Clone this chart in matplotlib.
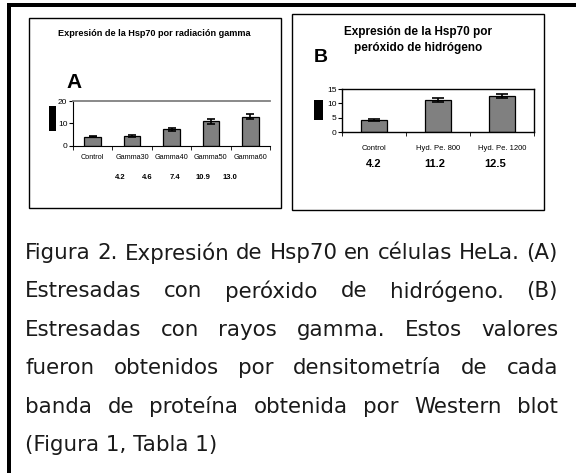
import numpy as np
import matplotlib
matplotlib.use("Agg")
import matplotlib.pyplot as plt
from matplotlib.patches import Rectangle

W, H = 576, 473

# panel A: radiacion gamma
gamma_labels = ["Control", "Gamma30", "Gamma40", "Gamma50", "Gamma60"]
gamma_vals = [4.2, 4.6, 7.4, 10.9, 13.0]
gamma_err = [0.4, 0.5, 0.7, 1.0, 1.0]
gamma_text = ["4.2", "4.6", "7.4", "10.9", "13.0"]

# panel B: peroxido de hidrogeno
hyd_labels = ["Control", "Hyd. Pe. 800", "Hyd. Pe. 1200"]
hyd_vals = [4.2, 11.2, 12.5]
hyd_err = [0.3, 0.8, 0.8]
hyd_text = ["4.2", "11.2", "12.5"]

caption = [
    "Figura 2. Expresión de Hsp70 en células HeLa. (A)",
    "Estresadas con peróxido de hidrógeno. (B)",
    "Estresadas con rayos gamma. Estos valores",
    "fueron obtenidos por densitometría de cada",
    "banda de proteína obtenida por Western blot",
    "(Figura 1, Tabla 1)",
]

ARIAL = ["Liberation Sans", "DejaVu Sans"]


def fx(x):
    return x / W


def fy(y):
    return 1 - y / H


def rect(fig, x0, y0, x1, y1, **kw):
    fig.patches.append(Rectangle((fx(x0), fy(y1)), fx(x1) - fx(x0), fy(y0) - fy(y1),
                                 transform=fig.transFigure, figure=fig, **kw))


def axes_px(fig, x0, y0, x1, y1):
    return fig.add_axes([fx(x0), fy(y1), fx(x1) - fx(x0), fy(y0) - fy(y1)])


fig = plt.figure(figsize=(W / 100, H / 100), dpi=100)

# outer black frame (top and left)
rect(fig, 7, 3, 576, 7, facecolor="black", edgecolor="none")
rect(fig, 7, 3, 11, 473, facecolor="black", edgecolor="none")

# panel boxes
rect(fig, 29, 18, 281, 208, facecolor="none", edgecolor="black", lw=1)
rect(fig, 292, 14, 544, 210, facecolor="none", edgecolor="black", lw=1)

# y label blobs
rect(fig, 49, 106, 56, 131, facecolor="black", edgecolor="none")
rect(fig, 314, 100, 323, 120, facecolor="black", edgecolor="none")

# ---- panel A ----
fig.text(fx(154), fy(33), "Expresión de la Hsp70 por radiación gamma", family=ARIAL,
         fontsize=6.6, fontweight="bold", ha="center", va="center")
fig.text(fx(66), fy(82), "A", family=ARIAL, fontsize=15, fontweight="bold",
         ha="left", va="center")

axA = axes_px(fig, 73, 101, 270, 146)
xa = np.arange(len(gamma_vals))
axA.bar(xa, gamma_vals, width=0.42, color="#808080", edgecolor="black", lw=0.9,
        yerr=gamma_err, capsize=3, error_kw=dict(elinewidth=1.2, capthick=1.2))
axA.set_xlim(-0.5, len(gamma_vals) - 0.5)
axA.set_ylim(0, 20)
axA.set_yticks([0, 10, 20])
axA.set_xticks(xa)
axA.set_xticklabels(gamma_labels, family=ARIAL, fontsize=5.2)
axA.set_xticks(np.arange(-0.5, len(gamma_vals), 1), minor=True)
axA.tick_params(axis="x", which="major", length=0, pad=5.5)
axA.tick_params(axis="x", which="minor", length=3, direction="out")
axA.tick_params(axis="y", length=3, direction="out", pad=1, labelsize=6)
for lab in axA.get_yticklabels():
    lab.set_family(ARIAL)
axA.spines["right"].set_visible(False)
axA.spines["top"].set_color("#808080")
axA.spines["top"].set_linewidth(1.3)
for i, t in enumerate(gamma_text):
    fig.text(fx(120 + i * 27.5), fy(177), t, family=ARIAL, fontsize=5.5,
             fontweight="bold", ha="center", va="center")

# ---- panel B ----
fig.text(fx(418), fy(32), "Expresión de la Hsp70 por", family=ARIAL,
         fontsize=8.5, fontweight="bold", ha="center", va="center")
fig.text(fx(418), fy(48), "peróxido de hidrógeno", family=ARIAL,
         fontsize=8.5, fontweight="bold", ha="center", va="center")
fig.text(fx(314), fy(57), "B", family=ARIAL, fontsize=14, fontweight="bold",
         ha="left", va="center")

axB = axes_px(fig, 342, 89, 534, 132)
xb = np.arange(len(hyd_vals))
axB.bar(xb, hyd_vals, width=0.42, color="#808080", edgecolor="black", lw=0.9,
        yerr=hyd_err, capsize=4, error_kw=dict(elinewidth=1.2, capthick=1.2))
axB.set_xlim(-0.5, len(hyd_vals) - 0.5)
axB.set_ylim(0, 15)
axB.set_yticks([0, 5, 10, 15])
axB.set_xticks(xb)
axB.set_xticklabels(hyd_labels, family=ARIAL, fontsize=5.5)
axB.set_xticks(np.arange(-0.5, len(hyd_vals), 1), minor=True)
axB.tick_params(axis="x", which="major", length=0, pad=9)
axB.tick_params(axis="x", which="minor", length=3, direction="out")
axB.tick_params(axis="y", length=3, direction="out", pad=1, labelsize=6)
for lab in axB.get_yticklabels():
    lab.set_family(ARIAL)
for s in axB.spines.values():
    s.set_linewidth(1)
for i, t in enumerate(hyd_text):
    axB.text(i - 0.05 * i, -0.75, t, transform=axB.get_xaxis_transform(),
             family=ARIAL, fontsize=8, fontweight="bold", ha="center", va="center")

# ---- caption, justified ----
x_left, x_right = 25, 558
y0, dy = 253, 38.4
fs = 13
fig.canvas.draw()
r = fig.canvas.get_renderer()
probe = fig.text(0, 0, caption[0], family="DejaVu Sans", fontsize=fs)
w0 = probe.get_window_extent(r).width
probe.remove()
fs = fs * (x_right - x_left) / w0

for k, line in enumerate(caption):
    y = fy(y0 + k * dy)
    if k == len(caption) - 1:
        fig.text(fx(x_left), y, line, family="DejaVu Sans", fontsize=fs,
                 color="#1a1a1a", ha="left", va="center")
        continue
    words = line.split(" ")
    texts = [fig.text(0, y, w, family="DejaVu Sans", fontsize=fs, color="#1a1a1a",
                      ha="left", va="center") for w in words]
    widths = [t.get_window_extent(r).width for t in texts]
    gap = (x_right - x_left - sum(widths)) / (len(words) - 1)
    x = x_left
    for t, w in zip(texts, widths):
        t.set_x(fx(x))
        x += w + gap

fig.savefig("out.png", dpi=100)
